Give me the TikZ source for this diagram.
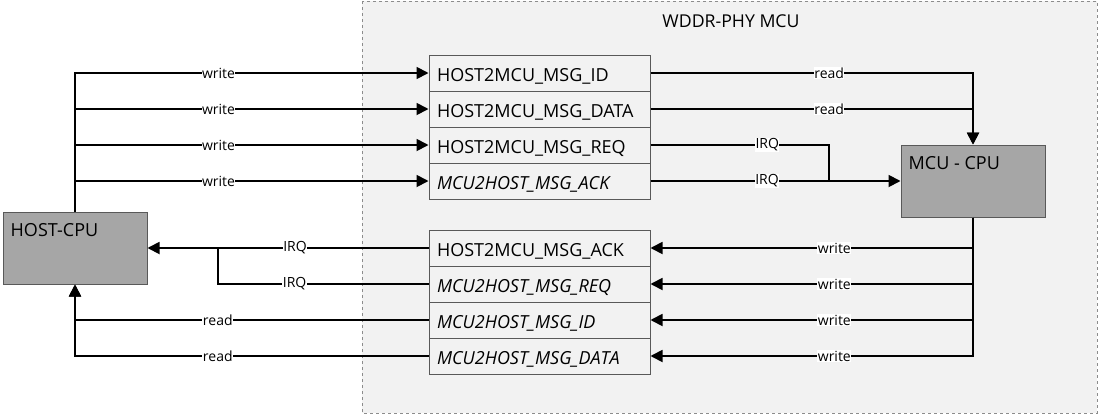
\documentclass[tikz,border=0pt]{standalone}
\usepackage{fontspec}
\setmainfont{Open Sans}
\usetikzlibrary{arrows.meta}
\definecolor{bgc}{HTML}{F2F2F2}
\definecolor{regc}{HTML}{F2F2F2}
\definecolor{cpuc}{HTML}{A6A6A6}
\definecolor{boxc}{HTML}{595959}
\definecolor{dashc}{HTML}{8C8C8C}
\begin{document}
\begin{tikzpicture}[x=1pt,y=-1pt,
  reg/.style={draw=boxc, line width=1pt, fill=regc, minimum width=221pt, minimum height=36pt,
    text width=205pt, align=left, inner sep=0pt, text height=18pt, text depth=1pt,
    font=\fontsize{18}{20}\selectfont},
  cpu/.style={draw=boxc, line width=1pt, fill=cpuc, minimum width=144pt, minimum height=72pt},
  cputext/.style={anchor=north west, inner xsep=8pt, inner ysep=12pt, font=\fontsize{18}{20}\selectfont},
  con/.style={line width=1.8pt},
  arr/.style={con, -{Triangle[length=12pt,width=12pt]}},
  lab/.style={fill=white, inner sep=0.5pt, font=\fontsize{14}{15}\selectfont}]
\useasboundingbox (0,0) rectangle (1100,415);
\draw[dashed, draw=dashc, fill=bgc, line width=0.8pt] (362,1) rectangle (1097,413);
\node[font=\fontsize{17.7}{20}\selectfont] (title) at (731,21) {WDDR-PHY MCU};

\node[reg] (r1) at (539.5,73) {HOST2MCU\_MSG\_ID};
\node[reg] (r2) at (539.5,109) {HOST2MCU\_MSG\_DATA};
\node[reg] (r3) at (539.5,145) {HOST2MCU\_MSG\_REQ};
\node[reg] (r4) at (539.5,181) {\itshape MCU2HOST\_MSG\_ACK};

\node[reg] (b1) at (539.5,248) {HOST2MCU\_MSG\_ACK};
\node[reg] (b2) at (539.5,284) {\itshape MCU2HOST\_MSG\_REQ};
\node[reg] (b3) at (539.5,320) {\itshape MCU2HOST\_MSG\_ID};
\node[reg] (b4) at (539.5,356) {\itshape MCU2HOST\_MSG\_DATA};

\node[cpu, label={[cputext]north west:HOST-CPU}] (host) at (75,248) {};
\node[cpu, label={[cputext]north west:MCU - CPU}] (mcu) at (973,181) {};

\coordinate (j1) at (829,181);
\coordinate (j2) at (218,248);

% host writes
\foreach \r in {r1,r2,r3,r4}
  \draw[arr] (host.north) |- node[lab, pos=0.703]{write} (\r.west);
% mcu reads
\draw[arr] (r1.east) -| node[lab, pos=0.277]{read} (mcu.north);
\draw[arr] (r2.east) -| node[lab, pos=0.277]{read} (mcu.north);
% IRQ to mcu
\draw[con] (r3.east) -| node[lab, pos=0.327]{IRQ} (j1);
\draw[arr] (r4.east) -- node[lab, pos=0.466]{IRQ} (mcu.west);
% mcu writes
\foreach \r in {b1,b2,b3,b4}
  \draw[arr] (mcu.south) |- node[lab, pos=0.715]{write} (\r.east);
% IRQ to host
\draw[arr] (b1.west) -- node[lab, pos=0.475]{IRQ} (host.east);
\draw[con] (b2.west) -| node[lab, pos=0.318]{IRQ} (j2);
% host reads
\draw[arr] (b3.west) -| node[lab, pos=0.298]{read} (host.south);
\draw[arr] (b4.west) -| node[lab, pos=0.298]{read} (host.south);
\end{tikzpicture}
\end{document}
